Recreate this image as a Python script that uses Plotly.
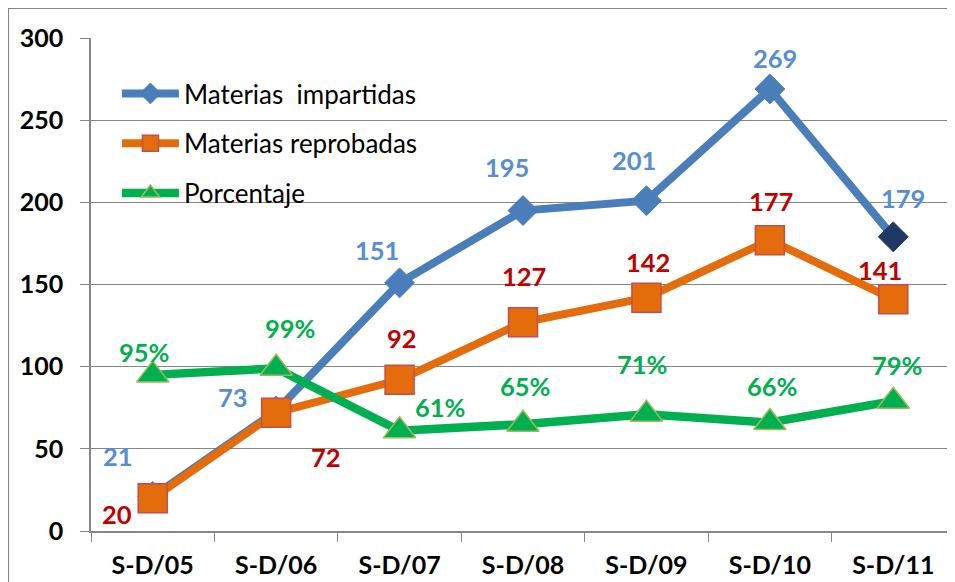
import plotly.graph_objects as go

categories = ["S-D/05", "S-D/06", "S-D/07", "S-D/08", "S-D/09", "S-D/10", "S-D/11"]
impartidas = [21, 73, 151, 195, 201, 269, 179]
reprobadas = [20, 72, 92, 127, 142, 177, 141]
porcentaje = [95, 99, 61, 65, 71, 66, 79]
porcentaje_labels = [f"{v}%" for v in porcentaje]
y_ticks = [0, 50, 100, 150, 200, 250, 300]

# label pixel offsets (dx, dy up)
imp_off = [(-35, 40), (-43, 14), (-23, 33), (-16, 44), (-12, 41), (5, 31), (10, 39)]
rep_off = [(-36, -16), (50, -44), (2, 42), (1, 46), (2, 36), (1, 39), (-13, 29)]
pct_off = [(-9, 23), (14, 40), (40, 24), (2, 38), (-4, 50), (2, 37), (4, 36)]

FONT = "Lato"
BLUE = "#4A7EBB"
ORANGE = "#E46C0A"
GREEN = "#00B050"
GRAY = "#868686"

fig = go.Figure()
fig.add_trace(go.Scatter(
    x=categories, y=impartidas, name="Materias\u00a0 impartidas", mode="lines+markers",
    line=dict(color=BLUE, width=8),
    marker=dict(symbol="diamond", size=23, color=[BLUE] * 6 + ["#1F3864"],
                line=dict(color=[BLUE] * 6 + ["#1F3864"], width=1)),
    legendgroup="a"))
fig.add_trace(go.Scatter(
    x=categories, y=reprobadas, name="Materias reprobadas", mode="lines+markers",
    line=dict(color=ORANGE, width=8),
    marker=dict(symbol="square", size=29, color=ORANGE, line=dict(color="#C0504D", width=1.5)),
    legendgroup="b"))
fig.add_trace(go.Scatter(
    x=categories, y=porcentaje, name="Porcentaje", mode="lines+markers",
    line=dict(color=GREEN, width=8.5),
    marker=dict(symbol="triangle-up", size=28, color=GREEN, line=dict(color="#9BBB59", width=1.5)),
    legendgroup="c"))

annotations = []
for series, labels, offs, col in [
    (impartidas, [str(v) for v in impartidas], imp_off, "#558ED5"),
    (reprobadas, [str(v) for v in reprobadas], rep_off, "#C00000"),
    (porcentaje, porcentaje_labels, pct_off, GREEN),
]:
    for c, v, t, (dx, dy) in zip(categories, series, labels, offs):
        annotations.append(dict(x=c, y=v, xref="x", yref="y", text=t, showarrow=False,
                                xshift=dx, yshift=dy,
                                font=dict(family=FONT, size=25.5, color=col, weight="bold")))

fig.update_layout(
    width=947, height=574,
    margin=dict(l=83, r=0, t=30, b=51),
    paper_bgcolor="white", plot_bgcolor="white",
    font=dict(family=FONT, color="black"),
    annotations=annotations,
    showlegend=True,
    legend=dict(x=0.03, y=0.935, xanchor="left", yanchor="top", bgcolor="rgba(0,0,0,0)",
                font=dict(family=FONT, size=26, color="black"), traceorder="grouped",
                tracegroupgap=13, itemwidth=57),
    xaxis=dict(type="category", tickson="boundaries", ticks="outside", ticklen=9, tickcolor=GRAY,
               showline=True, linecolor=GRAY, linewidth=1.5, showgrid=False,
               tickfont=dict(family=FONT, size=25, color="black", weight="bold"), ticklabelstandoff=11,
               range=[-0.5, 6.5]),
    yaxis=dict(range=[0, 300], tickvals=y_ticks, ticks="outside", ticklen=9, tickcolor=GRAY,
               showline=True, linecolor=GRAY, linewidth=1.5, showgrid=True, gridcolor=GRAY,
               gridwidth=1.3, tickfont=dict(family=FONT, size=25, color="black", weight="bold"),
               ticklabelstandoff=12, zeroline=False),
    shapes=[dict(type="rect", xref="paper", yref="paper", x0=-0.096, x1=1.2, y0=-0.3, y1=1.061,
                 line=dict(color=GRAY, width=2), fillcolor="rgba(0,0,0,0)", layer="above")],
)

fig.write_html("out.html")
